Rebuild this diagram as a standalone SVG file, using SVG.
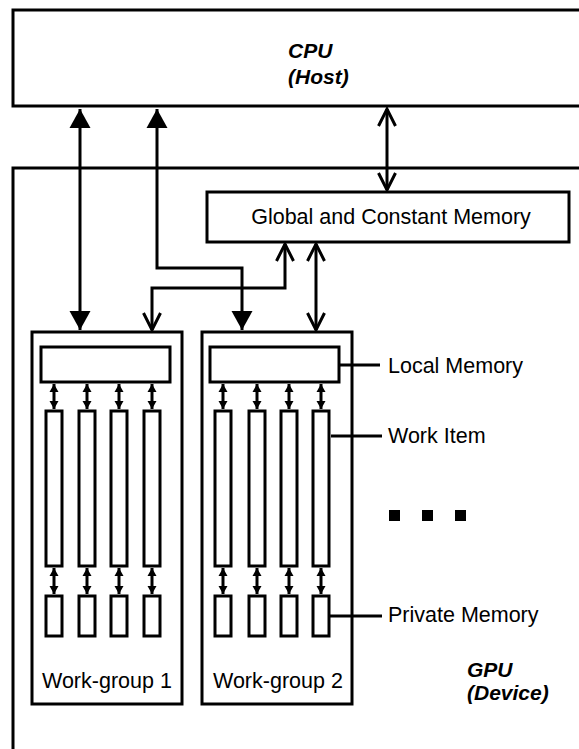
<svg xmlns="http://www.w3.org/2000/svg" width="579" height="749" viewBox="0 0 579 749">
  <style>
    .box { fill: #fff; stroke: #000; stroke-width: 3; }
    .cell { fill: #fff; stroke: #000; stroke-width: 3; }
    .wire { fill: none; stroke: #000; stroke-width: 3; }
    .bus { fill: none; stroke: #000; stroke-width: 3; marker-start: url(#solid); marker-end: url(#solid); }
    .link { fill: none; stroke: #000; stroke-width: 3; marker-start: url(#open); marker-end: url(#open); }
    .tiny { fill: none; stroke: #000; stroke-width: 3; marker-start: url(#small); marker-end: url(#small); }
    text { font-family: "Liberation Sans", Arial, sans-serif; font-size: 21.5px; fill: #000; }
    .title { font-weight: bold; font-style: italic; font-size: 21px; }
  </style>
  <defs>
    <marker id="solid" markerUnits="userSpaceOnUse" markerWidth="20" markerHeight="22" viewBox="-19 -11 20 22" refX="0" refY="0" orient="auto-start-reverse" overflow="visible">
      <path d="M-19,-10.5 L0,0 L-19,10.5 Z" fill="#000"/>
    </marker>
    <marker id="open" markerUnits="userSpaceOnUse" markerWidth="20" markerHeight="22" viewBox="-19 -11 20 22" refX="0" refY="0" orient="auto-start-reverse" overflow="visible">
      <path d="M-17,-8.5 L0,0 L-17,8.5" fill="none" stroke="#000" stroke-width="3"/>
    </marker>
    <marker id="small" markerUnits="userSpaceOnUse" markerWidth="9" markerHeight="10" viewBox="-8 -5 9 10" refX="0" refY="0" orient="auto-start-reverse" overflow="visible">
      <path d="M-8,-4.5 L0,0 L-8,4.5 Z" fill="#000"/>
    </marker>
  </defs>

  <!-- host processor -->
  <g id="cpu">
    <rect class="box" x="13" y="10" width="600" height="96"/>
    <text class="title" x="288" y="58">CPU</text>
    <text class="title" x="288" y="84">(Host)</text>
  </g>

  <!-- device outline -->
  <g id="gpu">
    <rect class="box" x="13" y="168" width="600" height="700"/>
    <text class="title" x="467" y="677">GPU</text>
    <text class="title" x="467" y="700">(Device)</text>
  </g>

  <g id="global-memory">
    <rect class="box" x="207" y="192" width="362" height="50"/>
    <text x="391" y="224" text-anchor="middle">Global and Constant Memory</text>
  </g>

  <g id="work-group-1">
    <rect class="box" x="32" y="332" width="150" height="372"/>
    <rect class="cell" x="41" y="347" width="129" height="35"/>
    <rect class="cell" x="46" y="411" width="16" height="155"/>
    <rect class="cell" x="79" y="411" width="16" height="155"/>
    <rect class="cell" x="111" y="411" width="16" height="155"/>
    <rect class="cell" x="144" y="411" width="16" height="155"/>
    <rect class="cell" x="46" y="596" width="16" height="40"/>
    <rect class="cell" x="79" y="596" width="16" height="40"/>
    <rect class="cell" x="111" y="596" width="16" height="40"/>
    <rect class="cell" x="144" y="596" width="16" height="40"/>
    <path class="tiny" d="M54,384 V409"/>
    <path class="tiny" d="M87,384 V409"/>
    <path class="tiny" d="M119,384 V409"/>
    <path class="tiny" d="M152,384 V409"/>
    <path class="tiny" d="M54,568 V594"/>
    <path class="tiny" d="M87,568 V594"/>
    <path class="tiny" d="M119,568 V594"/>
    <path class="tiny" d="M152,568 V594"/>
    <text x="42" y="688">Work-group 1</text>
  </g>

  <g id="work-group-2">
    <rect class="box" x="202" y="332" width="150" height="372"/>
    <rect class="cell" x="210" y="347" width="129" height="35"/>
    <rect class="cell" x="215" y="411" width="16" height="155"/>
    <rect class="cell" x="249" y="411" width="16" height="155"/>
    <rect class="cell" x="281" y="411" width="16" height="155"/>
    <rect class="cell" x="313" y="411" width="16" height="155"/>
    <rect class="cell" x="215" y="596" width="16" height="40"/>
    <rect class="cell" x="249" y="596" width="16" height="40"/>
    <rect class="cell" x="281" y="596" width="16" height="40"/>
    <rect class="cell" x="313" y="596" width="16" height="40"/>
    <path class="tiny" d="M223,384 V409"/>
    <path class="tiny" d="M257,384 V409"/>
    <path class="tiny" d="M289,384 V409"/>
    <path class="tiny" d="M321,384 V409"/>
    <path class="tiny" d="M223,568 V594"/>
    <path class="tiny" d="M257,568 V594"/>
    <path class="tiny" d="M289,568 V594"/>
    <path class="tiny" d="M321,568 V594"/>
    <text x="213" y="688">Work-group 2</text>
  </g>

  <!-- legend callouts -->
  <g id="legend">
    <path class="wire" d="M339,365 H380 M331,436 H382 M329,616 H382"/>
    <text x="388" y="373">Local Memory</text>
    <text x="388" y="443">Work Item</text>
    <text x="388" y="622">Private Memory</text>
  </g>

  <!-- further work-groups -->
  <g id="ellipsis" fill="#000">
    <rect x="389" y="510" width="11" height="11"/>
    <rect x="422" y="510" width="11" height="11"/>
    <rect x="455" y="510" width="11" height="11"/>
  </g>

  <g id="connectors">
    <path class="bus" d="M80,109 V330"/>
    <path class="bus" d="M157,109 V268 H242 V330"/>
    <path class="link" d="M387,109 V190"/>
    <path class="link" d="M285,244 V288 H152 V330"/>
    <path class="link" d="M316,244 V330"/>
  </g>
</svg>
